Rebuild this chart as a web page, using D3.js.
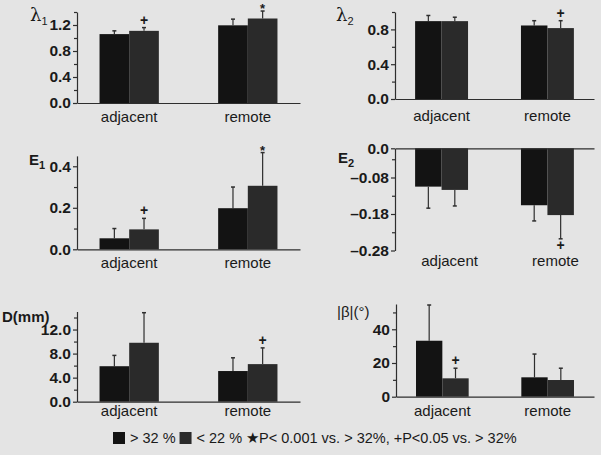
<!DOCTYPE html>
<html>
<head>
<meta charset="utf-8">
<script src="https://cdn.jsdelivr.net/npm/d3@7"></script>
<style>
body { margin: 0; background: #e4e4e4; }
svg { display: block; font-family: "Liberation Sans", Arial, Helvetica, sans-serif; }
</style>
</head>
<body>
<svg id="chart" width="601" height="455"></svg>
<script>
// groups on the x axis and the two series
var groups = ["adjacent", "remote"];
var seriesNames = ["> 32 %", "< 22 %"];
var seriesColors = ["#131313", "#2a2a2a"];

// values per panel: [group][series]
var lambda1Mean = [[1.06, 1.11], [1.195, 1.30]];
var lambda1Err  = [[0.05, 0.05], [0.095, 0.115]];
var lambda1Marks = [["", "+"], ["", "*"]];
var lambda1Ticks = [0, 0.4, 0.8, 1.2];
var lambda1Minor = [0.2, 0.6, 1.0, 1.4];

var lambda2Mean = [[0.895, 0.895], [0.845, 0.815]];
var lambda2Err  = [[0.065, 0.045], [0.055, 0.085]];
var lambda2Marks = [["", ""], ["", "+"]];
var lambda2Ticks = [0, 0.4, 0.8];
var lambda2Minor = [0.2, 0.6, 1.0];

var e1Mean = [[0.053, 0.096], [0.198, 0.306]];
var e1Err  = [[0.047, 0.053], [0.102, 0.16]];
var e1Marks = [["", "+"], ["", "*"]];
var e1Ticks = [0, 0.2, 0.4];
var e1Minor = [0.1, 0.3];

var e2Mean = [[-0.105, -0.114], [-0.156, -0.183]];
var e2Err  = [[0.059, 0.044], [0.043, 0.065]];
var e2Marks = [["", ""], ["", "+"]];
var e2Ticks = [0, -0.08, -0.18, -0.28];
var e2Minor = [-0.03, -0.13, -0.23];

var dMean = [[5.9, 9.8], [5.1, 6.25]];
var dErr  = [[1.8, 5.0], [2.2, 2.7]];
var dMarks = [["", ""], ["", "+"]];
var dTicks = [0, 4, 8, 12];
var dMinor = [2, 6, 10, 14];

var betaMean = [[33.2, 10.9], [11.5, 9.9]];
var betaErr  = [[21.2, 6.0], [13.8, 7.0]];
var betaMarks = [["", "+"], ["", ""]];
var betaTicks = [0, 20, 40];
var betaMinor = [10, 30, 50];

var legendNote = "\u2605P< 0.001 vs. > 32%, +P<0.05 vs. > 32%";

var f1 = d3.format(".1f");
var fNeg = d => d === 0 ? "0.0" : "\u2013" + Math.abs(d).toFixed(2);

var panels = [
  {title: "\u03bb", sub: "1", serif: true, mean: lambda1Mean, err: lambda1Err, marks: lambda1Marks,
   major: lambda1Ticks, minor: lambda1Minor, fmt: f1, domain: [0, 1.4],
   xr: [77, 300], yr: [103, 12], tx: 30, ty: 21, catY: 122},
  {title: "\u03bb", sub: "2", serif: true, mean: lambda2Mean, err: lambda2Err, marks: lambda2Marks,
   major: lambda2Ticks, minor: lambda2Minor, fmt: f1, domain: [0, 1.0],
   xr: [395, 594], yr: [99, 12], tx: 336, ty: 21, catY: 121},
  {title: "E", sub: "1", bold: true, mean: e1Mean, err: e1Err, marks: e1Marks,
   major: e1Ticks, minor: e1Minor, fmt: f1, domain: [0, 0.45],
   xr: [77, 300], yr: [249.3, 155.9], tx: 29, ty: 165, catY: 268},
  {title: "E", sub: "2", bold: true, mean: e2Mean, err: e2Err, marks: e2Marks,
   major: e2Ticks, minor: e2Minor, fmt: fNeg, domain: [0, -0.28],
   xr: [395, 594], yr: [148.3, 250.5], tx: 338, ty: 163, catY: 266, catDx: 8},
  {title: "D(mm)", bold: true, mean: dMean, err: dErr, marks: dMarks,
   major: dTicks, minor: dMinor, fmt: f1, domain: [0, 15],
   xr: [77, 300], yr: [401.7, 311.5], tx: 2, ty: 322, catY: 416},
  {title: "|\u03b2|(\u00b0)", mean: betaMean, err: betaErr, marks: betaMarks,
   major: betaTicks, minor: betaMinor, fmt: d3.format("d"), domain: [0, 55],
   xr: [396, 594], yr: [396.7, 304], tx: 337, ty: 317, catY: 416}
];

var svg = d3.select("#chart");
var ink = "#2e2e2e";

function drawPanel(p) {
  var x = d3.scaleBand().domain(groups).range(p.xr).paddingInner(0.5).paddingOuter(0.19);
  var xs = d3.scaleBand().domain(seriesNames).range([0, x.bandwidth()]);
  var y = d3.scaleLinear().domain(p.domain).range(p.yr);
  var g = svg.append("g");

  var rows = [];
  groups.forEach(function (grp, i) {
    seriesNames.forEach(function (s, j) {
      rows.push({grp: grp, s: s, j: j, v: p.mean[i][j], e: p.err[i][j], m: p.marks[i][j]});
    });
  });
  var cx = d => x(d.grp) + xs(d.s) + xs.bandwidth() / 2;
  var tip = d => d.v + Math.sign(d.v) * d.e;

  // error bars first, bars cover their base
  g.selectAll(".eb").data(rows).join("line")
    .attr("x1", cx).attr("x2", cx)
    .attr("y1", d => y(d.v)).attr("y2", d => y(tip(d)))
    .attr("stroke", ink).attr("stroke-width", 1.2);
  g.selectAll(".cap").data(rows).join("line")
    .attr("x1", d => cx(d) - 2).attr("x2", d => cx(d) + 2)
    .attr("y1", d => y(tip(d))).attr("y2", d => y(tip(d)))
    .attr("stroke", ink).attr("stroke-width", 1.5);

  g.selectAll(".bar").data(rows).join("rect")
    .attr("x", d => x(d.grp) + xs(d.s))
    .attr("width", xs.bandwidth())
    .attr("y", d => Math.min(y(0), y(d.v)))
    .attr("height", d => Math.abs(y(d.v) - y(0)))
    .attr("fill", d => seriesColors[d.j]);

  // significance marks
  g.selectAll(".mk").data(rows.filter(d => d.m)).join("text")
    .attr("x", cx)
    .attr("y", function (d) {
      var t = y(tip(d));
      if (d.v < 0) return t + 11;
      return d.m === "*" ? t + 2 : t - 3;
    })
    .attr("text-anchor", "middle")
    .attr("font-weight", "bold")
    .attr("font-size", d => d.m === "*" ? 13 : 14)
    .attr("fill", "#1a1a1a")
    .text(d => d.m);

  // y axis: major and minor ticks
  var ya = g.append("g").attr("transform", "translate(" + p.xr[0] + ",0)")
    .call(d3.axisLeft(y).tickValues(p.major).tickFormat(p.fmt).tickSize(4).tickPadding(2).tickSizeOuter(0));
  var ym = g.append("g").attr("transform", "translate(" + p.xr[0] + ",0)")
    .call(d3.axisLeft(y).tickValues(p.minor).tickFormat("").tickSize(3).tickSizeOuter(0));
  ym.select(".domain").remove();
  var xa = g.append("g").attr("transform", "translate(0," + y(0) + ")")
    .call(d3.axisBottom(x).tickValues([]).tickSizeOuter(0));

  [ya, ym, xa].forEach(function (a) {
    a.selectAll("path, line").attr("stroke", ink).attr("stroke-width", 1.2);
  });
  ya.selectAll("text")
    .attr("font-family", "'Liberation Sans', Arial, sans-serif")
    .attr("font-size", 15.5).attr("font-weight", "bold").attr("fill", "#1a1a1a");

  // category labels
  g.selectAll(".cat").data(groups).join("text")
    .attr("x", d => x(d) + x.bandwidth() / 2 + (p.catDx || 0))
    .attr("y", p.catY)
    .attr("text-anchor", "middle")
    .attr("font-size", 15).attr("fill", "#1a1a1a")
    .text(d => d);

  // panel title
  var t = g.append("text").attr("x", p.tx).attr("y", p.ty).attr("fill", "#1a1a1a");
  t.append("tspan")
    .attr("font-size", p.serif ? 18 : 15)
    .attr("font-family", p.serif ? "'DejaVu Serif', serif" : null)
    .attr("font-weight", p.bold ? "bold" : null)
    .text(p.title);
  if (p.sub) {
    t.append("tspan").attr("dy", 4).attr("font-size", 11)
      .attr("font-weight", p.bold ? "bold" : null)
      .text(p.sub);
  }
}

panels.forEach(drawPanel);

// legend
var lg = svg.append("g").attr("transform", "translate(113,443)");
var lx = 0;
seriesNames.forEach(function (s, j) {
  lg.append("rect").attr("x", lx).attr("y", -11).attr("width", 12).attr("height", 12)
    .attr("fill", seriesColors[j]);
  lx += 17;
  var tt = lg.append("text").attr("x", lx).attr("y", 0).attr("font-size", 14.5)
    .attr("fill", "#1a1a1a").text(s);
  lx += tt.node().getComputedTextLength() + 4;
});
lg.append("text").attr("x", lx).attr("y", 0).attr("font-size", 14.5)
  .attr("fill", "#1a1a1a").text(legendNote);
</script>
</body>
</html>
